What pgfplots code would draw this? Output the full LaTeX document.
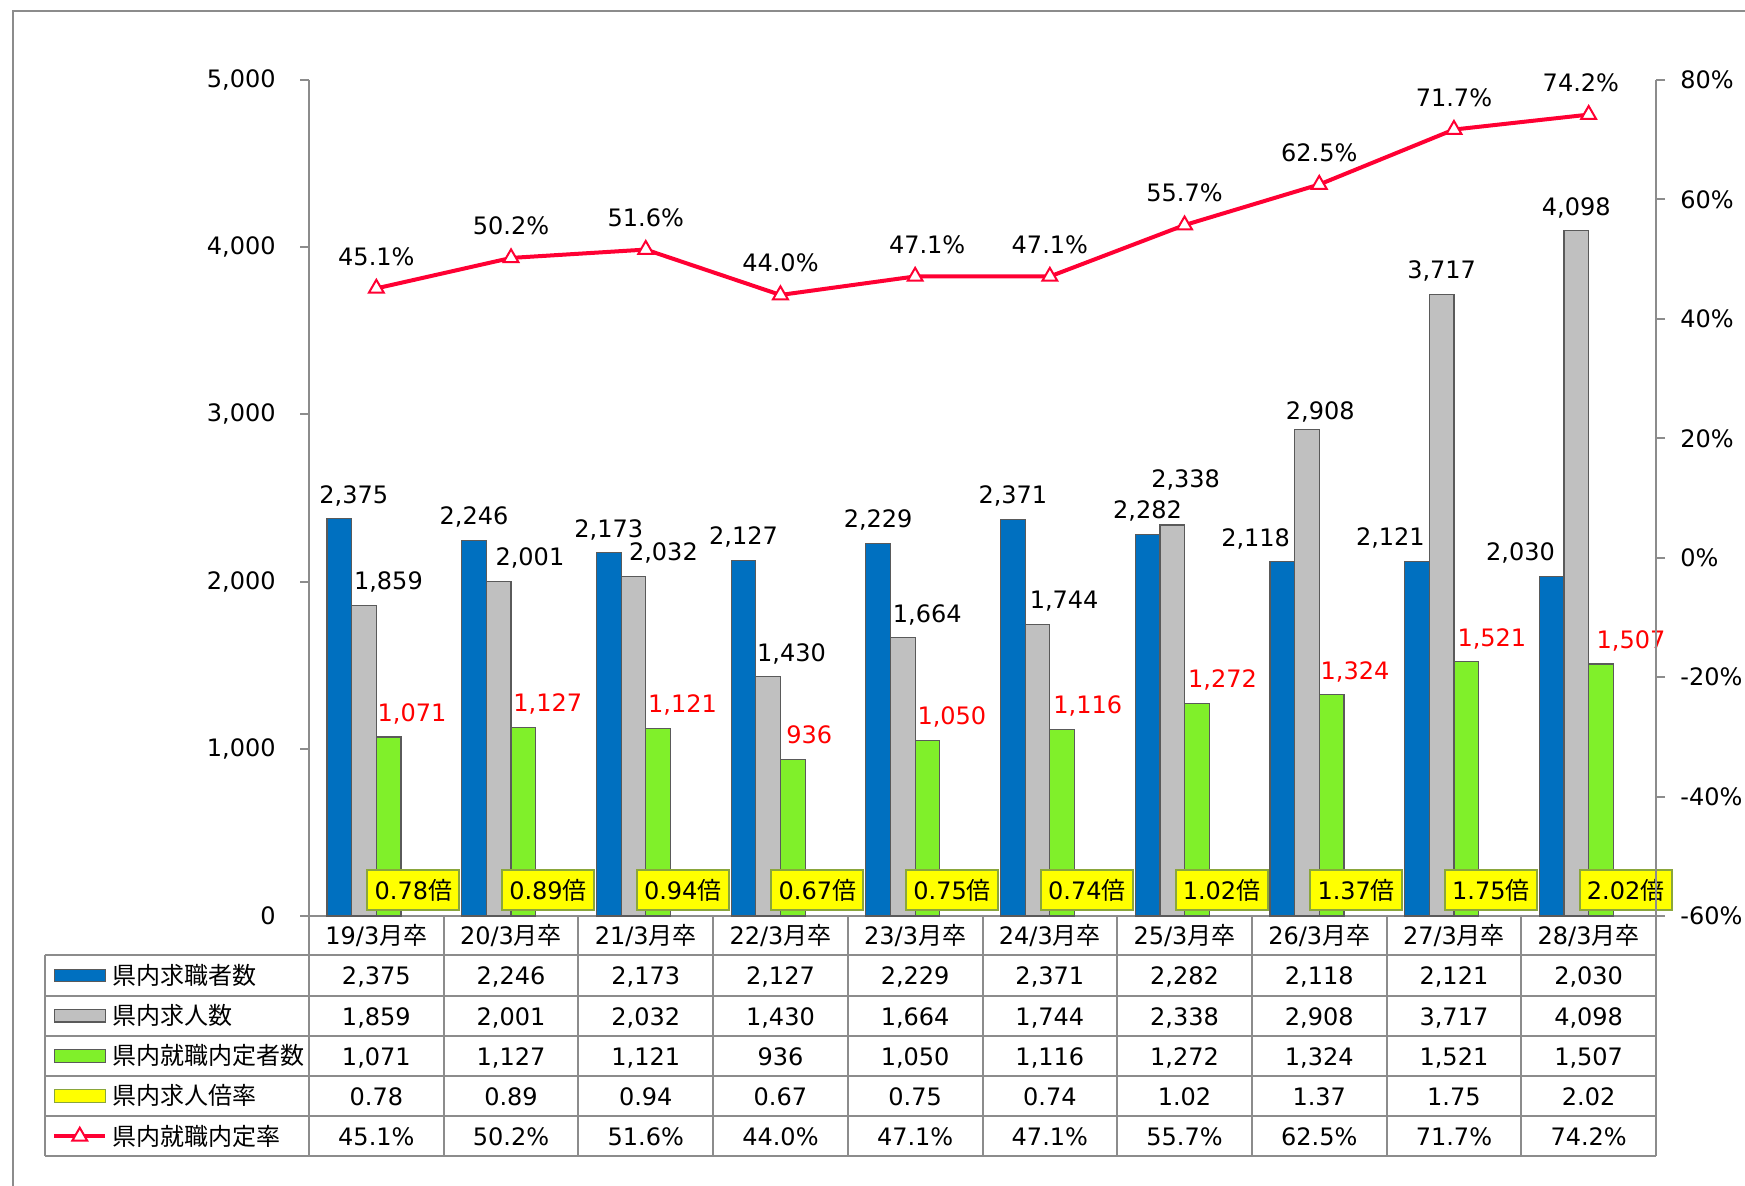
\documentclass[border=0pt]{standalone}
\usepackage{fontspec}
\setmainfont{DejaVu Sans}
\newfontfamily\jp{Noto Sans CJK JP}
\usepackage{pgfplots}
\pgfplotsset{compat=1.18}
\usepackage{pgfplotstable}
\definecolor{cblue}{HTML}{0070C0}
\definecolor{cgray}{HTML}{C0C0C0}
\definecolor{cgreen}{HTML}{80F02A}
\definecolor{cyellow}{HTML}{FFFF00}
\definecolor{cyb}{HTML}{8AA63C}
\definecolor{cred}{HTML}{FF0033}
\definecolor{lblred}{HTML}{FF0000}
\definecolor{agray}{HTML}{8C8C8C}
\definecolor{bedge}{HTML}{5A5A5A}
\newcommand{\gs}{{\jp 月卒}}
\newcommand{\bai}{{\jp 倍}}
\newcommand{\bfs}{\fontsize{12}{14.4}\selectfont}

\pgfplotstableread{
x a b c r p adx bdx bdy cdx pdx
0 2375 1859 1071 0.78 45.1 7.2 12.2 0 11.7 0
1 2246 2001 1127 0.89 50.2 0 15.6 0 12.2 0
2 2173 2032 1121 0.94 51.6 0 15 0 12.2 0
3 2127 1430 936 0.67 44.0 0 11.7 0 8.3 0
4 2229 1664 1050 0.75 47.1 0 12.2 0 12.2 6
5 2371 1744 1116 0.74 47.1 0 13.3 0 12.8 0
6 2282 2338 1272 1.02 55.7 0 6.7 11 12.8 0
7 2118 2908 1324 1.37 62.5 -13.3 6.7 -2.8 11.7 0
8 2121 3717 1521 1.75 71.7 -13.3 0 0 12.8 0
9 2030 4098 1507 2.02 74.2 -15.6 0 0 15 -3.9
}\data

\pgfplotsset{
  /pgf/number format/assume math mode=true,
  cnt/.style={nodes near coords={\pgfmathprintnumber[fixed,precision=0,1000 sep={,}]{\pgfplotspointmeta}}},
  rowlab/.style={only marks, mark=none, forget plot,
    every node near coord/.append style={anchor=base, yshift=-4.4pt, inner sep=0pt, text=black, font=\bfs}},
  barleg/.style={legend image code/.code={\draw[##1] (0pt,1.25pt) rectangle (25.5pt,7.55pt);}},
  lineleg/.style={legend image code/.code={\draw[##1, mark repeat=2, mark phase=2] plot coordinates {(0pt,4.4pt) (12.75pt,4.4pt) (25.5pt,4.4pt)};}},
  common/.style={
    at={(154.5pt,135pt)}, anchor=south west,
    scale only axis, width=673.5pt, height=418pt,
    xmin=-0.5, xmax=9.5,
    clip=false,
    axis line style={-, draw=agray, line width=1pt},
    tick style={draw=agray, line width=1pt},
    tick align=outside, major tick length=4.5pt,
    ticklabel style={font=\bfs, text=black},
  },
}

\begin{document}
\bfs
\begin{tikzpicture}
\useasboundingbox (0pt,0pt) rectangle (872.5pt,593pt);
\draw[agray, line width=1pt] (6.5pt,0pt) -- (6.5pt,587.5pt) -- (872.5pt,587.5pt);

\begin{axis}[common,
  ymin=0, ymax=5000,
  axis y line*=left, axis x line*=bottom,
  xtick=\empty,
  ytick={0,1000,2000,3000,4000,5000},
  yticklabels={0,{1,000},{2,000},{3,000},{4,000},{5,000}},
  yticklabel style={xshift=-8pt},
  legend style={at={(-0.1906,-0.0472)}, anchor=north west, draw=none, fill=none,
    inner sep=0pt, outer sep=0pt, row sep=0pt, column sep=2.4pt,
    cells={anchor=base west},
    nodes={inner sep=0pt, text height=14.45pt, text depth=5.65pt, font=\bfs, text=black}},
]
% bars
\addplot[ybar, bar width=0.183, bar shift=-0.2745, fill=cblue, draw=bedge, line width=0.6pt,
  point meta=y, cnt, forget plot,
  visualization depends on={\thisrow{adx} \as \ndx},
  every node near coord/.append style={anchor=base, xshift=\ndx pt - 18.49pt, yshift=7.8pt, inner sep=0pt, text=black, font=\bfs}]
  table[x=x,y=a]{\data};
\addplot[ybar, bar width=0.183, bar shift=-0.0915, fill=cgray, draw=bedge, line width=0.6pt,
  point meta=y, cnt, forget plot,
  visualization depends on={\thisrow{bdx} \as \ndx},
  visualization depends on={\thisrow{bdy} \as \ndy},
  every node near coord/.append style={anchor=base, xshift=\ndx pt - 6.16pt, yshift=7.8pt+\ndy pt, inner sep=0pt, text=black, font=\bfs}]
  table[x=x,y=b]{\data};
\addplot[ybar, bar width=0.183, bar shift=0.0915, fill=cgreen, draw=bedge, line width=0.6pt,
  point meta=y, cnt, forget plot,
  visualization depends on={\thisrow{cdx} \as \ndx},
  every node near coord/.append style={anchor=base, xshift=\ndx pt + 6.16pt, yshift=7.8pt, inner sep=0pt, text=lblred, font=\bfs}]
  table[x=x,y=c]{\data};
% ratio boxes
\addplot[only marks, mark=none, forget plot, point meta=\thisrow{r},
  nodes near coords={\pgfmathprintnumber[fixed,fixed zerofill,precision=2]{\pgfplotspointmeta}\bai},
  every node near coord/.append style={anchor=center, fill=cyellow, draw=cyb, line width=1pt,
    minimum width=46pt, minimum height=20pt, inner sep=0pt, text=black, font=\bfs}]
  table[x expr=\thisrow{x}+0.2745, y expr=155]{\data};

% table grid
\draw[agray, line width=1pt]
  (axis cs:-2.4636,-236) -- (axis cs:9.5,-236)
  (axis cs:-2.4636,-480) -- (axis cs:9.5,-480)
  (axis cs:-2.4636,-719) -- (axis cs:9.5,-719)
  (axis cs:-2.4636,-958) -- (axis cs:9.5,-958)
  (axis cs:-2.4636,-1199) -- (axis cs:9.5,-1199)
  (axis cs:-2.4636,-1438) -- (axis cs:9.5,-1438)
  (axis cs:-2.4636,-236) -- (axis cs:-2.4636,-1438)
  (axis cs:-0.5,0) -- (axis cs:-0.5,-1438)
  (axis cs:0.5,0) -- (axis cs:0.5,-1438)
  (axis cs:1.5,0) -- (axis cs:1.5,-1438)
  (axis cs:2.5,0) -- (axis cs:2.5,-1438)
  (axis cs:3.5,0) -- (axis cs:3.5,-1438)
  (axis cs:4.5,0) -- (axis cs:4.5,-1438)
  (axis cs:5.5,0) -- (axis cs:5.5,-1438)
  (axis cs:6.5,0) -- (axis cs:6.5,-1438)
  (axis cs:7.5,0) -- (axis cs:7.5,-1438)
  (axis cs:8.5,0) -- (axis cs:8.5,-1438)
  (axis cs:9.5,0) -- (axis cs:9.5,-1438);

% header row
\addplot[rowlab, point meta=explicit symbolic, nodes near coords] coordinates {
  (0,-118) [19/3\gs] (1,-118) [20/3\gs] (2,-118) [21/3\gs] (3,-118) [22/3\gs] (4,-118) [23/3\gs]
  (5,-118) [24/3\gs] (6,-118) [25/3\gs] (7,-118) [26/3\gs] (8,-118) [27/3\gs] (9,-118) [28/3\gs]};
% table rows
\addplot[rowlab, point meta=\thisrow{a}, cnt] table[x=x, y expr=-358]{\data};
\addplot[rowlab, point meta=\thisrow{b}, cnt] table[x=x, y expr=-600]{\data};
\addplot[rowlab, point meta=\thisrow{c}, cnt] table[x=x, y expr=-839]{\data};
\addplot[rowlab, point meta=\thisrow{r},
  nodes near coords={\pgfmathprintnumber[fixed,fixed zerofill,precision=2]{\pgfplotspointmeta}}]
  table[x=x, y expr=-1079]{\data};
\addplot[rowlab, point meta=\thisrow{p},
  nodes near coords={\pgfmathprintnumber[fixed,fixed zerofill,precision=1]{\pgfplotspointmeta}\%}]
  table[x=x, y expr=-1319]{\data};

% legend
\addlegendimage{barleg, fill=cblue, draw=bedge, line width=0.6pt}
\addlegendentry{\jp 県内求職者数}
\addlegendimage{barleg, fill=cgray, draw=bedge, line width=0.6pt}
\addlegendentry{\jp 県内求人数}
\addlegendimage{barleg, fill=cgreen, draw=bedge, line width=0.6pt}
\addlegendentry{\jp 県内就職内定者数}
\addlegendimage{barleg, fill=cyellow, draw=cyb, line width=0.6pt}
\addlegendentry{\jp 県内求人倍率}
\addlegendimage{lineleg, cred, line width=2pt, mark=triangle*, mark size=4.3pt, mark options={fill=white, draw=cred, line width=1pt}}
\addlegendentry{\jp 県内就職内定率}
\end{axis}

\begin{axis}[common,
  ymin=-60, ymax=80,
  axis y line*=right, axis x line=none,
  xtick=\empty,
  ytick={-60,-40,-20,0,20,40,60,80},
  yticklabels={-60\%,-40\%,-20\%,0\%,20\%,40\%,60\%,80\%},
  yticklabel style={xshift=3.5pt},
]
\addplot[cred, line width=2pt, mark=triangle*, mark size=4.3pt,
  mark options={fill=white, draw=cred, line width=1pt},
  point meta=y,
  nodes near coords={\pgfmathprintnumber[fixed,fixed zerofill,precision=1]{\pgfplotspointmeta}\%},
  visualization depends on={\thisrow{pdx} \as \ndx},
  every node near coord/.append style={anchor=base, xshift=\ndx pt, yshift=11.6pt, inner sep=0pt, text=black, font=\bfs}]
  table[x=x,y=p]{\data};
\end{axis}
\end{tikzpicture}
\end{document}
